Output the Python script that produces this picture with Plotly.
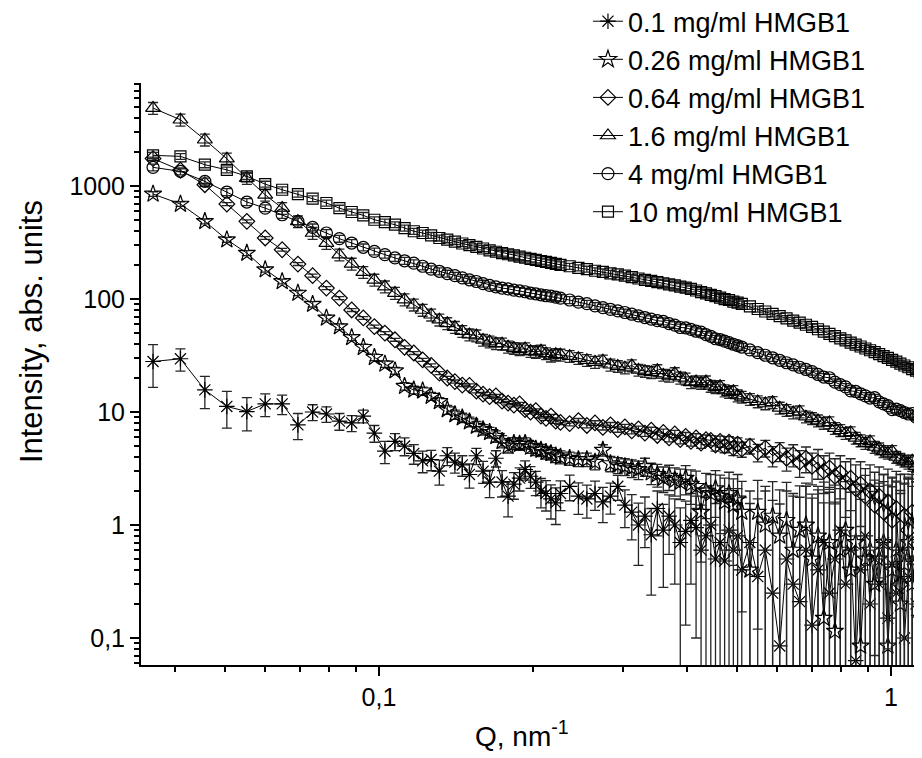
import plotly.graph_objects as go

# ---------------- data ----------------
Q_A = [0.0362, 0.04095, 0.0457, 0.05045, 0.0552, 0.05995, 0.0647, 0.06945, 0.0742, 0.07895,
       0.0837, 0.08845, 0.0932, 0.09795, 0.1027, 0.10745, 0.1122, 0.11695, 0.1217, 0.12645,
       0.1312, 0.13595, 0.1407, 0.14545, 0.1502, 0.15495, 0.1597, 0.16445, 0.1692, 0.17395,
       0.1787, 0.18345, 0.1882, 0.19295, 0.1977, 0.20245, 0.2072, 0.21195, 0.2167, 0.22145, 0.2262]
Q_B = [0.2357, 0.2452, 0.2547, 0.2642, 0.2737, 0.2832, 0.2927, 0.3022, 0.3117, 0.3212,
       0.3307, 0.3402, 0.3497, 0.3592, 0.3687, 0.3782, 0.3877, 0.3972, 0.4067, 0.4162,
       0.4257, 0.4352, 0.4447, 0.4542, 0.4637, 0.4732, 0.4827, 0.4922, 0.5017, 0.5112]
Q_C = [0.5302, 0.5492, 0.5682, 0.5872, 0.6062, 0.6252, 0.6442, 0.6632, 0.6822, 0.7012,
       0.7202, 0.7392, 0.7582, 0.7772, 0.7962, 0.8152, 0.8342, 0.8532, 0.8722, 0.8912,
       0.9102, 0.9292, 0.9482, 0.9672, 0.9862, 1.0052, 1.0242, 1.0432, 1.0622, 1.0812,
       1.1002, 1.1192, 1.1382, 1.1572, 1.1762]

# 0.1 mg/ml (asterisks)
I01_A = [28, 29.6, 15.7, 11.2, 10.1, 11.8, 11.8, 7.7, 10.0, 9.6, 8.3, 8.0, 9.2, 6.5, 4.5, 5.5, 5.0, 4.3, 3.7, 3.8,
         3.0, 4.1, 3.6, 3.4, 2.8, 4.1, 3.0, 2.4, 3.9, 2.4, 1.8, 2.3, 2.6, 3.1, 2.7, 2.4, 2.0, 1.9, 1.7, 1.57, 1.9]
I01_B = [2.2, 1.8, 1.7, 1.9, 1.6, 1.8, 2.2, 1.5, 1.3, 1.0, 1.2, 0.82, 1.4, 0.9, 1.2,
         1.0, 0.7, 0.88, 1.1, 0.95, 0.6, 0.8, 1.0, 0.5, 0.7, 0.48, 0.9, 0.6, 0.8, 0.4]
I01_C = [0.7, 0.35, 0.6, 0.25, 0.085, 0.5, 0.3, 0.21, 0.6, 0.13, 0.4, 0.7, 0.25, 0.5, 0.9, 0.3, 0.6, 0.063,
         0.4, 0.8, 0.2, 0.5, 0.3, 0.7, 0.15, 0.45, 0.25, 0.6, 0.1, 0.35, 0.5, 0.2, 0.4, 0.07, 0.3]
E01_A = [11.5, 6.6, 5.0, 4.0, 3.3, 2.7, 2.3, 2.0, 1.6, 1.5, 1.4, 1.3, 1.2, 1.1, 1.0, 0.95, 0.9, 0.85, 0.8, 0.78,
         0.75, 0.74, 0.72, 0.7, 0.68, 0.67, 0.66, 0.65, 0.64, 0.63, 0.62, 0.61, 0.6, 0.6, 0.59, 0.58, 0.58, 0.57,
         0.57, 0.56, 0.56]
E01_B = [0.56, 0.56, 0.55, 0.55, 0.55, 0.55, 0.55, 0.55, 0.56, 0.56, 0.57, 0.58, 0.6, 0.62, 0.65,
         0.7, 0.72, 0.75, 0.8, 0.85, 0.9, 0.95, 1.0, 1.05, 1.1, 1.15, 1.2, 1.25, 1.3, 1.35]
E01_C = [1.3, 1.35, 1.4, 1.4, 1.45, 1.5, 1.5, 1.55, 1.6, 1.6, 1.65, 1.7, 1.7, 1.75, 1.8, 1.8, 1.85, 1.9,
         1.9, 1.95, 2.0, 2.0, 2.05, 2.1, 2.1, 2.15, 2.2, 2.2, 2.25, 2.3, 2.3, 2.35, 2.4, 2.4, 2.45]

# 0.26 mg/ml (stars)
I026_A = [850, 693, 487, 335, 255, 182, 143, 113, 90, 68, 57, 45.7, 37.4, 30.5, 26.6, 23.2, 16.9, 15.7, 15.4, 13.8,
          12.4, 10.5, 9.5, 8.9, 8.2, 7.5, 7.0, 6.6, 6.1, 5.5, 5.0, 5.3, 5.2, 5.3, 4.9, 4.7, 4.6, 4.4, 4.3, 4.1, 4.0]
I026_B = [3.9, 3.8, 3.8, 3.6, 4.6, 3.5, 3.4, 3.3, 3.2, 3.1, 3.3, 2.9, 2.8, 2.6, 2.7,
          2.5, 2.4, 2.6, 2.3, 2.2, 1.3, 2.0, 1.9, 2.1, 1.8, 1.6, 1.9, 1.5, 1.7, 1.3]
I026_C = [0.4, 1.3, 1.0, 1.2, 0.8, 1.1, 0.6, 0.9, 1.0, 0.5, 0.8, 0.15, 0.7, 0.115, 0.6, 0.9, 0.4, 0.7,
          0.085, 0.5, 0.6, 0.3, 0.5, 0.7, 0.085, 0.4, 0.6, 0.2, 0.45, 0.7, 0.3, 0.5, 0.15, 0.4, 0.6]
E026_A = [40, 33, 24, 17, 13, 9, 7, 6, 5, 4, 3.3, 2.8, 2.4, 2.0, 1.8, 1.6, 1.3, 1.2, 1.2, 1.1,
          1.0, 0.95, 0.9, 0.85, 0.8, 0.78, 0.75, 0.72, 0.7, 0.68, 0.66, 0.64, 0.62, 0.6, 0.59, 0.58, 0.57,
          0.56, 0.55, 0.54, 0.53]
E026_B = [0.52, 0.52, 0.52, 0.53, 0.53, 0.54, 0.55, 0.56, 0.57, 0.58, 0.6, 0.62, 0.64, 0.66, 0.68,
          0.7, 0.72, 0.75, 0.78, 0.8, 0.83, 0.86, 0.9, 0.93, 0.96, 1.0, 1.03, 1.06, 1.1, 1.13]
E026_C = [1.15, 1.18, 1.2, 1.22, 1.25, 1.28, 1.3, 1.32, 1.35, 1.38, 1.4, 1.42, 1.45, 1.48, 1.5, 1.52, 1.55,
          1.58, 1.6, 1.62, 1.65, 1.68, 1.7, 1.72, 1.75, 1.78, 1.8, 1.82, 1.85, 1.88, 1.9, 1.92, 1.95, 1.98, 2.0]

# 0.64 mg/ml (diamonds)
I064_A = [1750, 1380, 1027, 693, 487, 347, 273, 204, 161, 125, 102, 80, 68, 57, 50, 43.6, 37.4, 33.3, 29, 25.9,
          22.1, 20, 18.6, 17.3, 17.2, 15.3, 14.4, 13.7, 13.9, 12.5, 12, 11.5, 11.8, 10.5, 10, 10.3, 9.2, 8.8,
          9.2, 8.3, 8.1]
I064_B = [7.9, 8.4, 7.6, 8.0, 7.3, 7.7, 7.0, 7.4, 6.8, 7.1, 6.5, 6.9, 6.2, 6.6, 5.9,
          6.4, 5.7, 6.1, 5.5, 5.9, 5.3, 5.7, 5.6, 5.1, 5.5, 5.0, 5.4, 4.8, 5.2, 4.7]
I064_C = [5.0, 4.4, 4.8, 4.1, 4.5, 3.9, 4.2, 3.6, 3.9, 3.3, 3.6, 3.0, 3.2, 2.7, 2.9, 2.4, 2.6, 2.1,
          2.3, 1.8, 2.0, 1.5, 1.8, 1.3, 1.6, 1.1, 1.4, 0.3, 1.2, 0.9, 1.3, 0.7, 1.1, 0.5, 1.0]
E064_A = [52, 41, 31, 21, 15, 10, 8, 6, 5, 4, 3, 2.4, 2.0, 1.7, 1.5, 1.3, 1.1, 1.0, 0.9, 0.8,
          0.7, 0.65, 0.6, 0.55, 0.52, 0.5, 0.48, 0.46, 0.44, 0.42, 0.41, 0.4, 0.39, 0.38, 0.37, 0.36,
          0.36, 0.35, 0.35, 0.35, 0.35]
E064_B = [0.35, 0.36, 0.36, 0.37, 0.37, 0.38, 0.38, 0.39, 0.4, 0.41, 0.42, 0.43, 0.44, 0.45, 0.46,
          0.47, 0.48, 0.49, 0.5, 0.52, 0.54, 0.56, 0.58, 0.6, 0.62, 0.64, 0.66, 0.68, 0.7, 0.72]
E064_C = [0.75, 0.78, 0.8, 0.83, 0.86, 0.9, 0.93, 0.96, 1.0, 1.03, 1.06, 1.1, 1.13, 1.16, 1.2, 1.23, 1.26,
          1.3, 1.33, 1.36, 1.4, 1.43, 1.46, 1.5, 1.52, 1.55, 1.58, 1.6, 1.62, 1.65, 1.68, 1.7, 1.72, 1.75, 1.78]

# 1.6 mg/ml (triangles)
I16_A = [4900, 3860, 2570, 1745, 1177, 837, 638, 487, 384, 313, 247, 205, 173, 148, 129, 113, 99, 89, 80, 72.6,
         65.6, 61, 56.5, 52, 48.5, 47.5, 43.5, 42, 40.5, 40.2, 37.8, 36.8, 35.8, 36.5, 34.6, 34, 34.8, 33,
         31.5, 32.4, 32.1]
I16_B = [31.2, 30, 28.8, 27.7, 28.5, 26.2, 25.5, 24.7, 25.8, 23.6, 23, 22.5, 23.4, 21.3, 20.9,
         22, 20.1, 19.7, 18.3, 18.6, 18, 18.6, 17, 16.5, 16.9, 15.5, 15, 15.3, 14, 13.6]
I16_C = [13.0, 12.4, 11.9, 12.2, 10.9, 10.4, 9.9, 10.1, 9.1, 8.8, 8.4, 8.0, 8.1, 7.2, 6.9, 6.5, 6.6, 5.9,
         5.6, 5.3, 5.5, 4.9, 4.75, 4.5, 4.35, 4.5, 4.0, 3.85, 3.7, 3.55, 3.7, 3.3, 3.2, 3.1, 3.0]

# 4 mg/ml (circles)
I4_A = [1463, 1350, 1100, 885, 722, 638, 557, 487, 431, 384, 342, 313, 287, 264, 247, 231, 218, 208, 195, 184,
        176, 168, 161, 154, 148, 143, 137, 132, 128, 125, 123, 120, 118, 116, 113, 111, 109, 107, 106, 104, 102]
I4_B = [98, 94, 91, 87, 84, 81, 78.5, 76, 73.4, 71, 68.6, 66.4, 64.3, 63.5, 60.5,
        58.8, 56, 55.6, 53.8, 51.9, 51, 48.4, 46.8, 44.5, 43.8, 42.4, 41.1, 39.8, 38.7, 37.6]
I4_C = [35.5, 33.5, 31.8, 30.2, 28.7, 27.3, 26.1, 24.9, 23.8, 22.8, 21.5, 20.4, 20.1, 18.4, 17.5, 16.7, 15.4,
        15.2, 14.5, 13.9, 13.3, 13.4, 12.3, 11.8, 11.4, 10.5, 10.6, 10.3, 9.9, 9.6, 9.7, 9.0, 8.7, 8.4, 8.2]

# 10 mg/ml (squares)
I10_A = [1870, 1830, 1545, 1390, 1220, 1040, 927, 849, 773, 708, 638, 589, 550, 503, 480, 455, 425, 398, 384, 366,
         347, 335, 322, 310, 300, 290, 280, 270, 262, 255, 249, 243, 237, 232, 227, 222, 217, 213, 209, 205, 201]
I10_B = [195, 189, 184, 178, 174, 169, 165, 161, 156, 152, 148, 145, 141, 138, 135,
         132, 129, 126, 123, 119, 115, 112, 109, 106, 103, 100, 98, 95, 93, 90.5]
I10_C = [86, 81.6, 77.6, 73.9, 70.5, 67.4, 64.5, 61.8, 59.2, 56.7, 54, 51.5, 49.1, 47, 44.9, 43, 41.2, 39.5,
         38, 36.5, 35.2, 33.9, 32.6, 31.3, 30.1, 29, 27.9, 26.8, 25.8, 24.9, 24, 23.2, 22.4, 21.7, 21]

NAMES = ["0.1 mg/ml HMGB1", "0.26 mg/ml HMGB1", "0.64 mg/ml HMGB1",
         "1.6 mg/ml HMGB1", "4 mg/ml HMGB1", "10 mg/ml HMGB1"]

X_TICKS = [0.1, 1]
X_TICKTEXT = ["0,1", "1"]
X_MINOR = [0.04, 0.05, 0.06, 0.07, 0.08, 0.09, 0.2, 0.3, 0.4, 0.5, 0.6, 0.7, 0.8, 0.9]
Y_TICKS = [0.1, 1, 10, 100, 1000]
Y_TICKTEXT = ["0,1", "1", "10", "100", "1000"]
Y_MINOR = [0.06, 0.07, 0.08, 0.09, 0.2, 0.3, 0.4, 0.5, 0.6, 0.7, 0.8, 0.9,
           2, 3, 4, 5, 6, 7, 8, 9, 20, 30, 40, 50, 60, 70, 80, 90,
           200, 300, 400, 500, 600, 700, 800, 900, 2000, 3000, 4000, 5000, 6000, 7000, 8000]

X_TITLE = "Q, nm<sup>-1</sup>"
Y_TITLE = "Intensity, abs. units"

# ---------------- figure ----------------
Q = Q_A + Q_B + Q_C
series = [
    (NAMES[0], I01_A + I01_B + I01_C, "asterisk-open", 13, dict(type="data", array=E01_A + E01_B + E01_C)),
    (NAMES[1], I026_A + I026_B + I026_C, "star-open", 13, dict(type="data", array=E026_A + E026_B + E026_C)),
    (NAMES[2], I064_A + I064_B + I064_C, "diamond-open", 12, dict(type="data", array=E064_A + E064_B + E064_C)),
    (NAMES[3], I16_A + I16_B + I16_C, "triangle-up-open", 13, dict(type="percent", value=12)),
    (NAMES[4], I4_A + I4_B + I4_C, "circle-open", 12, dict(type="percent", value=7)),
    (NAMES[5], I10_A + I10_B + I10_C, "square-open", 11, dict(type="percent", value=6)),
]

fig = go.Figure()
for name, y, sym, size, err in series:
    n = min(len(Q), len(y))
    e = dict(err)
    if e.get("type") == "data":
        e["array"] = e["array"][:n]
    e.update(visible=True, color="#262626", thickness=1.3, width=5)
    fig.add_trace(go.Scatter(
        x=Q[:n], y=y[:n], name=name, mode="lines+markers",
        line=dict(color="black", width=1),
        marker=dict(symbol=sym, size=size, color="black", line=dict(color="black", width=1.2)),
        error_y=e,
    ))

TICK_FONT = dict(size=25, color="black", family="Liberation Sans Narrow, Arial Narrow, Liberation Sans, Arial")

axis_common = dict(
    type="log", showline=True, linecolor="black", linewidth=2,
    ticks="outside", ticklen=9, tickwidth=2, tickcolor="black",
    showgrid=False, zeroline=False, mirror=False,
    tickfont=TICK_FONT,
)

fig.update_xaxes(
    **axis_common, range=[-1.4648, 0.0762],
    tickvals=X_TICKS, ticktext=X_TICKTEXT,
    minor=dict(tickvals=X_MINOR, ticks="outside", ticklen=5, tickwidth=1.5, tickcolor="black", showgrid=False),
)
fig.update_yaxes(
    **axis_common, range=[-1.239, 3.912],
    tickvals=Y_TICKS, ticktext=Y_TICKTEXT,
    minor=dict(tickvals=Y_MINOR, ticks="outside", ticklen=5, tickwidth=1.5, tickcolor="black", showgrid=False),
)

# axis titles placed as in the reference (slightly off-centre)
fig.add_annotation(text=Y_TITLE, xref="paper", yref="paper", x=-0.1394, y=0.572,
                   textangle=-90, showarrow=False, xanchor="center", yanchor="middle",
                   font=dict(size=31, color="black"))
fig.add_annotation(text=X_TITLE, xref="paper", yref="paper", x=0.483, y=-0.118,
                   showarrow=False, xanchor="center", yanchor="middle",
                   font=dict(size=28, color="black"))

fig.update_layout(
    width=922, height=758,
    margin=dict(l=133, r=0, t=75, b=101, autoexpand=False),
    paper_bgcolor="white", plot_bgcolor="white",
    font=dict(family="Liberation Sans, Arial, sans-serif", color="black"),
    showlegend=True,
    legend=dict(x=0.5665, y=1.1475, xanchor="left", yanchor="top",
                font=dict(size=27, color="black"), bgcolor="rgba(0,0,0,0)",
                tracegroupgap=0),
)

fig.write_html("out.html", config={"displayModeBar": False})
